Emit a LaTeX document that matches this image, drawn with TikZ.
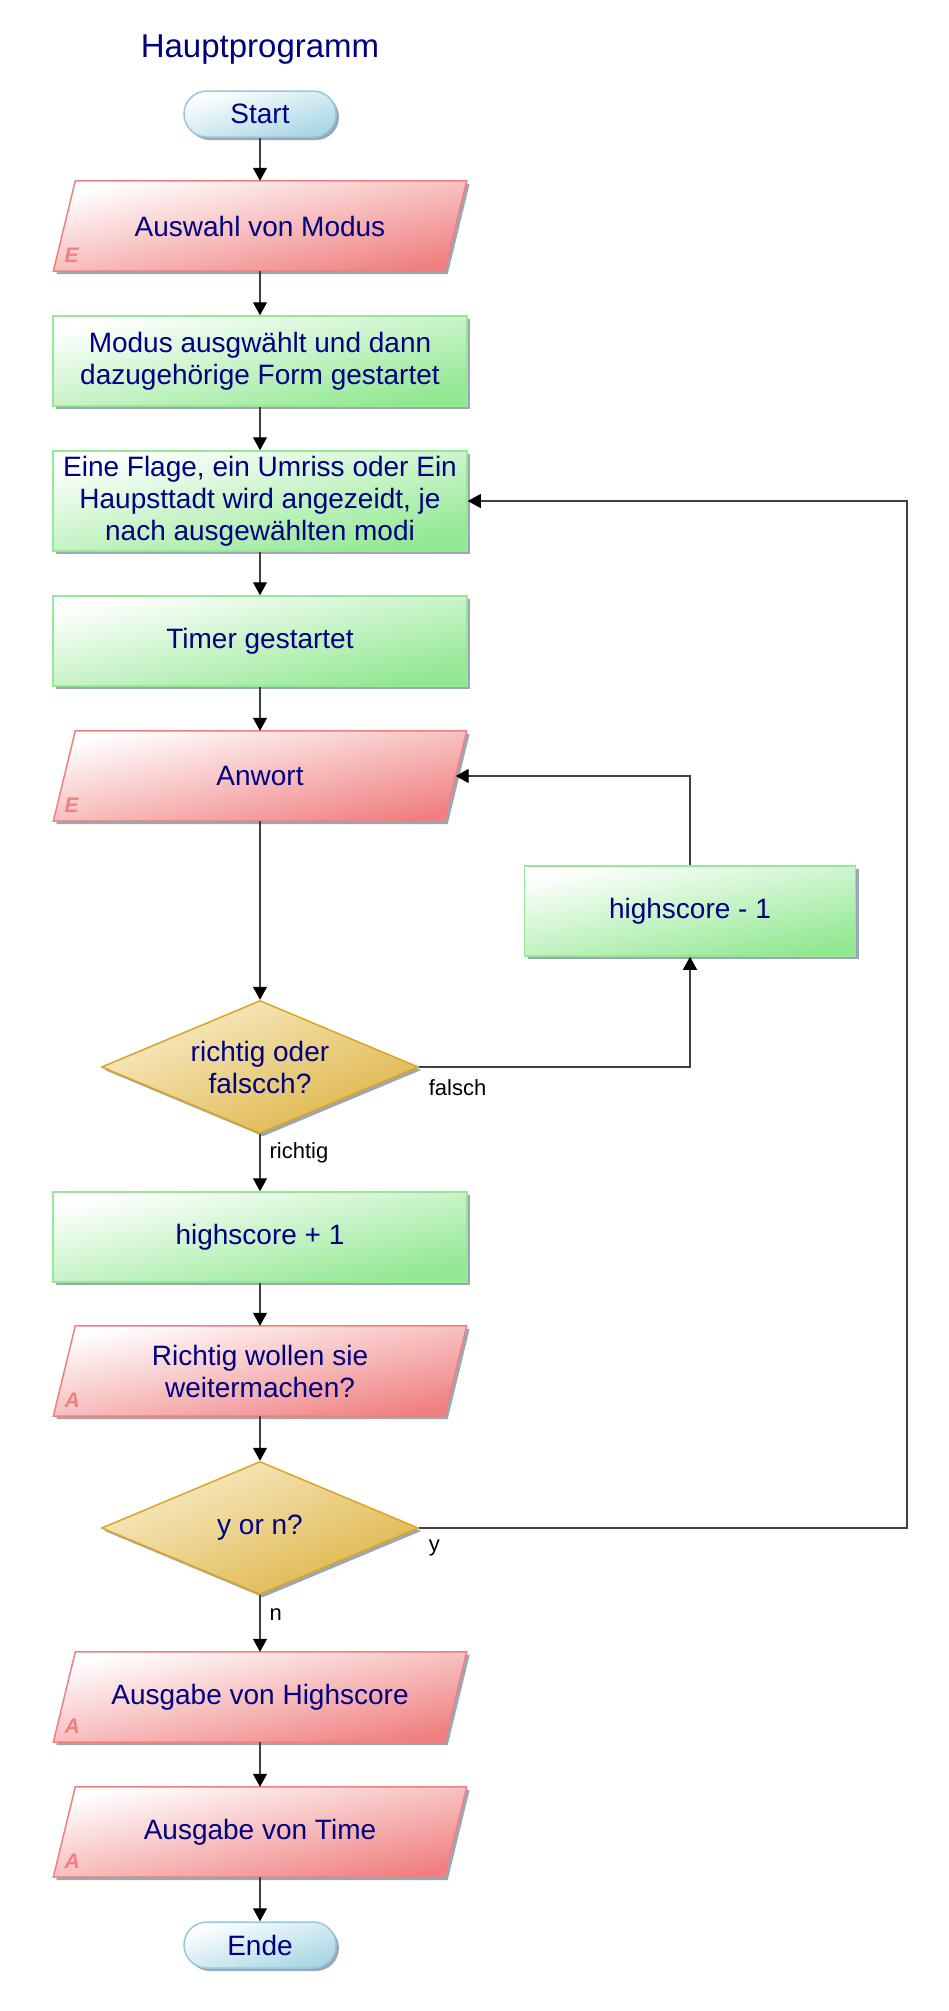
\documentclass[tikz,border=0pt]{standalone}
\usepackage{fontspec}
\setmainfont{Liberation Sans}
\usetikzlibrary{shadows,arrows.meta,backgrounds,shapes.geometric}

\definecolor{txtblue}{RGB}{0,0,128}
\definecolor{pinkline}{RGB}{240,128,128}
\definecolor{pinkfill}{RGB}{240,128,128}
\definecolor{greenline}{RGB}{150,232,150}
\definecolor{greenfill}{RGB}{144,232,144}
\definecolor{goldline}{RGB}{218,165,32}
\definecolor{goldfill}{RGB}{222,180,70}
\definecolor{goldlight}{RGB}{248,236,200}
\definecolor{pillline}{RGB}{150,200,220}
\definecolor{pillfill}{RGB}{168,214,228}
\definecolor{shadowgray}{RGB}{130,145,165}
\definecolor{linegray}{RGB}{64,64,64}

\tikzset{
  boxshadow/.style={drop shadow={shadow xshift=3pt,shadow yshift=-3pt,fill=shadowgray,opacity=0.8}},
  txt/.style={text=txtblue,font=\fontsize{28}{32}\selectfont,align=center},
  terminal/.style={txt,rectangle,rounded corners=23pt,minimum width=152pt,minimum height=46pt,
    draw=pillline,line width=1.5pt,top color=white,bottom color=pillfill,shading angle=17,boxshadow},
  io/.style={txt,rectangle,minimum width=391pt,minimum height=90pt},
  ioshape/.style={draw=pinkline,line width=1.5pt,top color=white,bottom color=pinkfill,shading angle=12,boxshadow},
  process/.style={txt,rectangle,minimum width=414pt,minimum height=90pt,draw=greenline,line width=1.5pt,
    top color=white,bottom color=greenfill,shading angle=12,boxshadow},
  decision/.style={txt,diamond,aspect=2.4,inner sep=0pt,minimum width=317pt,minimum height=133pt,
    draw=goldline,line width=1.5pt,top color=goldlight,bottom color=goldfill,shading angle=23,boxshadow},
  marker/.style={text=pinkline,font=\fontsize{21}{21}\selectfont\bfseries\itshape,inner sep=0pt,anchor=base west},
  lbl/.style={font=\fontsize{22}{22}\selectfont,inner sep=0pt},
  arr/.style={draw=linegray,line width=1.2pt,-{Triangle[width=14pt,length=13pt,color=black]}},
}

\begin{document}
\begin{tikzpicture}[x=1pt,y=-1pt]
\useasboundingbox (0,0) rectangle (949,2011);

\node[txt,font=\fontsize{33}{33}\selectfont] (title) at (260,50) {Hauptprogramm};
\node[terminal] (start) at (260,114) {Start};
\node[io] (modus) at (260,226) {Auswahl von Modus};
\node[process] (form) at (260,361) {Modus ausgwählt und dann\\dazugehörige Form gestartet};
\node[process,minimum height=100pt] (anzeige) at (260,501) {Eine Flage, ein Umriss oder Ein\\Haupsttadt wird angezeidt, je\\nach ausgewählten modi};
\node[process] (timer) at (260,641) {Timer gestartet};
\node[io] (antwort) at (260,776) {Anwort};
\node[process,minimum width=331pt] (minus) at (690,911) {highscore - 1};
\node[decision] (pruefen) at (260,1067) {richtig oder\\falscch?};
\node[process] (plus) at (260,1237) {highscore + 1};
\node[io] (weiter) at (260,1371) {Richtig wollen sie\\weitermachen?};
\node[decision] (yn) at (260,1528) {y or n?};
\node[io] (ausHs) at (260,1697) {Ausgabe von Highscore};
\node[io] (ausTime) at (260,1832) {Ausgabe von Time};
\node[terminal] (ende) at (260,1945) {Ende};

% parallelograms behind the in-/output nodes
\begin{scope}[on background layer]
\foreach \n in {modus,antwort,weiter,ausHs,ausTime}
  \path[ioshape] ([xshift=11pt]\n.north west) -- ([xshift=11pt]\n.north east)
    -- ([xshift=-11pt]\n.south east) -- ([xshift=-11pt]\n.south west) -- cycle;
\end{scope}

% E / A marks
\node[marker] (mE1) at ([yshift=9pt]modus.south west) {E};
\node[marker] (mE2) at ([yshift=9pt]antwort.south west) {E};
\node[marker] (mA1) at ([yshift=9pt]weiter.south west) {A};
\node[marker] (mA2) at ([yshift=9pt]ausHs.south west) {A};
\node[marker] (mA3) at ([yshift=9pt]ausTime.south west) {A};

\coordinate (back) at (907,1528);

\draw[arr] (start) -- (modus);
\draw[arr] (modus) -- (form);
\draw[arr] (form) -- (anzeige);
\draw[arr] (anzeige) -- (timer);
\draw[arr] (timer) -- (antwort);
\draw[arr] (antwort) -- (pruefen);
\draw[arr] (pruefen.east) -| (minus.south) node[lbl,pos=0,anchor=west,xshift=9pt,yshift=-21pt] {falsch};
\draw[arr] (minus.north) |- (antwort.east);
\draw[arr] (pruefen.south) -- (plus.north) node[lbl,pos=0,anchor=west,xshift=9pt,yshift=-19pt] {richtig};
\draw[arr] (plus) -- (weiter);
\draw[arr] (weiter) -- (yn);
\draw[arr] (yn.east) -- node[lbl,pos=0,anchor=west,xshift=9pt,yshift=-20pt] {y} (back) |- (anzeige.east);
\draw[arr] (yn.south) -- (ausHs.north) node[lbl,pos=0,anchor=west,xshift=9pt,yshift=-19pt] {n};
\draw[arr] (ausHs) -- (ausTime);
\draw[arr] (ausTime) -- (ende);

\end{tikzpicture}
\end{document}
